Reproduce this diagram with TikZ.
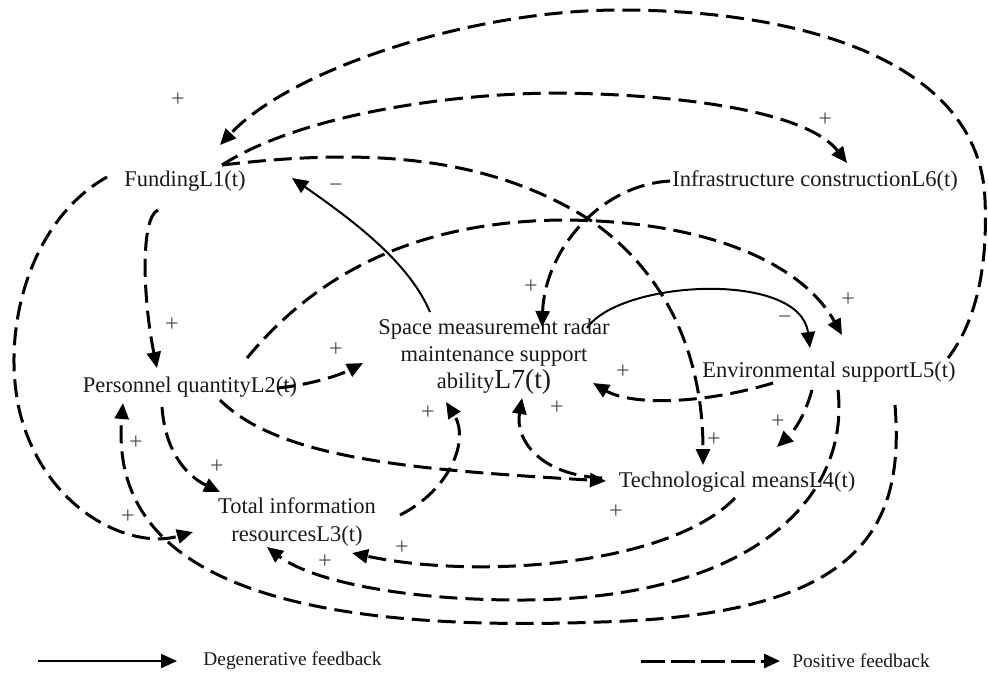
\documentclass[tikz,border=0pt]{standalone}
\usepackage{fontspec}
\setmainfont{Liberation Serif}
\usetikzlibrary{arrows.meta,calc}
\begin{document}
\begin{tikzpicture}[x=0.5pt,y=-0.5pt,
  var/.style={inner sep=0pt, font=\fontsize{11.25}{13.5}\selectfont, text=black!90},
  posarr/.style={line width=1.5pt, dash pattern=on 9pt off 4pt, -{Triangle[length=8pt,width=7pt]}},
  negarr/.style={line width=1pt, -{Triangle[length=8pt,width=7pt]}},
  sgn/.style={inner sep=0pt, font=\fontsize{12}{12}\selectfont, text=black!70},
  leg/.style={inner sep=0pt, anchor=west, font=\fontsize{9.7}{11}\selectfont, text=black!90},
]
\useasboundingbox (0,0) rectangle (988,677);

% variables
\node[var] (L1) at (185,181) {FundingL1(t)};
\node[var] (L6) at (815,181) {Infrastructure constructionL6(t)};
\node[var, align=center] (L7) at (494,357) {Space measurement radar\\maintenance support\\ability{\fontsize{13.8}{13.5}\selectfont L7(t)}};
\node[var] (L2) at (190,387) {Personnel quantityL2(t)};
\node[var] (L5) at (829,372) {Environmental supportL5(t)};
\node[var] (L4) at (737,482) {Technological meansL4(t)};
\node[var, align=center, font=\fontsize{11.25}{14}\selectfont] (L3) at (297,522) {Total information\\resourcesL3(t)};

% connectors
\draw[posarr] ($(L5)+(119,-14)$) .. controls (975,323) and (988,270) .. (985,200)
  .. controls (980,60) and (800,10) .. (620,10)
  .. controls (470,10) and (290,70) .. ($(L1)+(35,-36)$);
\draw[posarr] ($(L1)+(37,-16)$) .. controls (300,115) and (450,93) .. (560,93)
  .. controls (700,95) and (810,115) .. ($(L6)+(32,-18)$);
\draw[posarr] ($(L1)+(37,-16)$) .. controls (350,150) and (480,150) .. (590,220)
  .. controls (670,275) and (703,360) .. ($(L4)+(-34,-17)$);
\draw[posarr] ($(L6)+(-145,0)$) .. controls (600,185) and (545,250) .. ($(L7)+(48,-30)$);
\draw[posarr] ($(L2)+(57,-29)$) .. controls (320,270) and (420,222) .. (560,220)
  .. controls (700,220) and (800,260) .. ($(L5)+(13,-37)$);
\draw[negarr] ($(L7)+(-64,-45)$) .. controls (410,265) and (360,225) .. ($(L1)+(107,-3)$);
\draw[negarr] ($(L7)+(93,-29)$) .. controls (620,280) and (800,270) .. ($(L5)+(-19,-24)$);
\draw[posarr] ($(L1)+(-27,29)$) .. controls (140,218) and (143,300) .. ($(L2)+(-33,-19)$);
\draw[posarr] ($(L1)+(-78,-4)$) .. controls (30,220) and (0,330) .. (20,413)
  .. controls (45,510) and (130,550) .. ($(L3)+(-104,10)$);
\draw[posarr] ($(L2)+(87,1)$) .. controls (310,385) and (340,375) .. ($(L7)+(-131,6)$);
\draw[posarr] ($(L2)+(-28,20)$) .. controls (165,450) and (185,475) .. ($(L3)+(-77,-30)$);
\draw[posarr] ($(L2)+(30,13)$) .. controls (280,460) and (420,470) .. ($(L4)+(-131,-1)$);
\draw[posarr] ($(L3)+(103,-7)$) .. controls (450,490) and (470,440) .. ($(L7)+(-48,45)$);
\draw[posarr] ($(L4)+(-135,-4)$) .. controls (540,475) and (515,440) .. ($(L7)+(28,41)$);
\draw[posarr] ($(L5)+(-56,11)$) .. controls (700,405) and (630,405) .. ($(L7)+(99,26)$);
\draw[posarr] ($(L5)+(-17,18)$) .. controls (805,415) and (795,430) .. ($(L4)+(40,-35)$);
\draw[posarr] ($(L4)+(-2,16)$) .. controls (670,565) and (480,580) .. ($(L3)+(55,31)$);
\draw[posarr] ($(L5)+(9,18)$) .. controls (850,500) and (750,600) .. (520,600)
  .. controls (400,600) and (310,580) .. ($(L3)+(-30,25)$);
\draw[posarr] ($(L5)+(66,33)$) .. controls (905,530) and (860,615) .. (600,622)
  .. controls (250,635) and (110,560) .. ($(L2)+(-67,16)$);

% polarity signs
\node[sgn] (p1) at (178,100) {+};
\node[sgn] (p2) at (825,120) {+};
\node[sgn] (p3) at (531,287) {+};
\node[sgn] (p4) at (848,300) {+};
\node[sgn] (p5) at (172,325) {+};
\node[sgn] (p6) at (336,350) {+};
\node[sgn] (p7) at (623,372) {+};
\node[sgn] (p8) at (428,413) {+};
\node[sgn] (p9) at (557,408) {+};
\node[sgn] (p10) at (714,440) {+};
\node[sgn] (p11) at (778,422) {+};
\node[sgn] (p12) at (217,467) {+};
\node[sgn] (p13) at (136,443) {+};
\node[sgn] (p14) at (128,517) {+};
\node[sgn] (p15) at (402,548) {+};
\node[sgn] (p16) at (325,562) {+};
\node[sgn] (p17) at (616,512) {+};
\node[sgn] (m1) at (336,188) {\char"2212};
\node[sgn] (m2) at (785,320) {\char"2212};

% legend
\node[leg] (legneg) at (203,661) {Degenerative feedback};
\node[leg] (legpos) at (792,661) {Positive feedback};
\coordinate (ln0) at (38,661);
\coordinate (lp0) at (641,661);
\draw[negarr] (ln0) -- ([xshift=-13pt]legneg.west);
\draw[posarr, dash pattern=on 12pt off 3pt] (lp0) -- ([xshift=-6pt]legpos.west);
\end{tikzpicture}
\end{document}
